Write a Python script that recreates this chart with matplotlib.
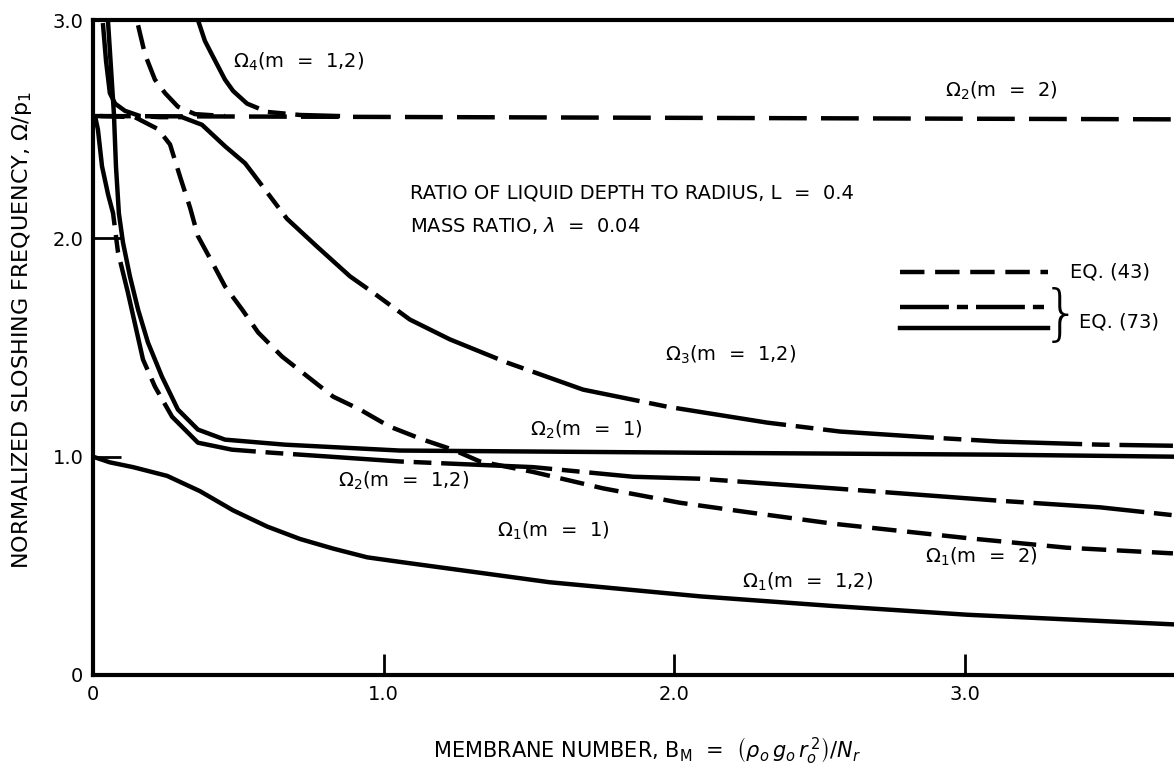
import matplotlib.pyplot as plt

plt.rcParams['font.family'] = ['DejaVu Sans']
plt.rcParams['mathtext.fontset'] = 'dejavusans'

# --- curves (x = membrane number B_M, y = Omega/p1) ---
# Omega_1 (m = 1), Eq. (73), solid
om1_m1_x = [0.0, 0.058, 0.138, 0.255, 0.368, 0.482, 0.599, 0.712, 0.826, 0.943,
            1.056, 1.57, 2.09, 2.545, 3.007, 3.715]
om1_m1_y = [1.0, 0.974, 0.952, 0.912, 0.842, 0.754, 0.68, 0.623, 0.579, 0.539,
            0.518, 0.425, 0.36, 0.316, 0.276, 0.232]

# Omega_1 (m = 2), Eq. (43), dashed
om1_m2_x = [0.024, 0.144, 0.224, 0.265, 0.30, 0.334, 0.361, 0.41, 0.454, 0.513,
            0.568, 0.65, 0.826, 0.918, 1.02, 1.135, 1.238, 1.331, 1.514, 1.754,
            2.019, 2.25, 2.546, 3.007, 3.35, 3.715]
om1_m2_y = [2.56, 2.555, 2.50, 2.43, 2.28, 2.14, 2.01, 1.89, 1.78, 1.674,
            1.569, 1.459, 1.275, 1.216, 1.138, 1.078, 1.032, 0.978, 0.93, 0.855,
            0.789, 0.746, 0.693, 0.627, 0.583, 0.557]

# upper branch of Eq. (43) running into Omega_2 (m = 2)
eq43_up_x = [0.155, 0.179, 0.213, 0.248, 0.292, 0.351, 0.454]
eq43_up_y = [2.976, 2.842, 2.727, 2.665, 2.603, 2.569, 2.56]

# Omega_2 (m = 2), Eq. (43)
om2_m2_x = [0.0, 3.72]
om2_m2_y = [2.56, 2.545]

# Omega_2 (m = 1), Eq. (73), solid
om2_m1_x = [0.052, 0.072, 0.079, 0.089, 0.103, 0.127, 0.155, 0.189, 0.237, 0.292,
            0.361, 0.454, 0.66, 1.056, 2.088, 3.12, 3.715]
om2_m1_y = [2.986, 2.569, 2.33, 2.115, 1.982, 1.826, 1.674, 1.523, 1.367, 1.216,
            1.124, 1.078, 1.055, 1.028, 1.018, 1.009, 1.0]

# Omega_2 (m = 1,2), Eq. (73), dash-dot
om2_m12_x = [0.007, 0.017, 0.031, 0.052, 0.069, 0.086, 0.12, 0.151, 0.172, 0.213,
             0.272, 0.361, 0.478, 0.616, 0.815, 1.056, 1.514, 1.858, 2.088, 2.546,
             3.12, 3.464, 3.715]
om2_m12_y = [2.56, 2.498, 2.33, 2.20, 2.115, 1.936, 1.752, 1.569, 1.445, 1.321,
             1.183, 1.064, 1.032, 1.018, 1.0, 0.978, 0.952, 0.908, 0.899, 0.855,
             0.798, 0.768, 0.732]

# Omega_3 (m = 1,2), Eq. (73), dash-dot
om3_x = [0.034, 0.045, 0.058, 0.076, 0.11, 0.162, 0.23, 0.306, 0.375, 0.454,
         0.523, 0.55, 0.667, 0.77, 0.884, 0.963, 1.09, 1.228, 1.424, 1.686,
         1.975, 2.319, 2.57, 2.89, 3.12, 3.464, 3.715]
om3_y = [2.986, 2.81, 2.665, 2.617, 2.584, 2.56, 2.555, 2.555, 2.52, 2.422,
         2.344, 2.297, 2.09, 1.963, 1.826, 1.752, 1.628, 1.537, 1.431, 1.307,
         1.229, 1.156, 1.115, 1.087, 1.069, 1.055, 1.05]

# Omega_4 (m = 1,2), Eq. (73)
om4_x = [0.361, 0.385, 0.409, 0.454, 0.482, 0.53, 0.599, 0.712, 0.85]
om4_y = [3.0, 2.904, 2.842, 2.727, 2.675, 2.617, 2.579, 2.565, 2.56]

x_ticks = [0, 1, 2, 3]
x_ticklabels = ['0', '1.0', '2.0', '3.0']
y_ticks = [0, 1, 2, 3]
y_ticklabels = ['0', '1.0', '2.0', '3.0']

LW = 3.2
DASH = (5.5, 2.4)
LONG_DASH = (8.5, 3.2)
DASH_DOT = (25, 2.2, 4, 2.2)

fig = plt.figure(figsize=(11.74, 7.65), dpi=100)
ax = fig.add_axes([93 / 1174, 90 / 765, 1081 / 1174, 655 / 765])

ax.plot(om1_m1_x, om1_m1_y, color='black', lw=LW)
ax.plot(om1_m2_x, om1_m2_y, color='black', lw=LW, dashes=DASH)
ax.plot(eq43_up_x, eq43_up_y, color='black', lw=LW, dashes=DASH)
ax.plot(om2_m2_x, om2_m2_y, color='black', lw=LW, dashes=LONG_DASH)
ax.plot(om2_m1_x, om2_m1_y, color='black', lw=LW)
ax.plot(om2_m12_x, om2_m12_y, color='black', lw=LW, dashes=DASH_DOT)
ax.plot(om3_x, om3_y, color='black', lw=LW, dashes=DASH_DOT)
ax.plot(om4_x, om4_y, color='black', lw=LW, dashes=DASH_DOT)

ax.set_xlim(0, 1081 / 290.7)
ax.set_ylim(0, 3.0)
ax.spines['right'].set_visible(False)
for s in ['left', 'bottom', 'top']:
    ax.spines[s].set_linewidth(3)
ax.set_xticks(x_ticks)
ax.set_xticklabels(x_ticklabels)
ax.set_yticks(y_ticks)
ax.set_yticklabels(y_ticklabels)
ax.tick_params(axis='x', direction='in', length=15, width=2, pad=7, labelsize=14)
ax.tick_params(axis='y', direction='in', length=20, width=2, pad=7, labelsize=14)

ax.set_ylabel(r'NORMALIZED SLOSHING FREQUENCY, $\Omega/\mathregular{p_1}$', fontsize=16,
              va='center')
ax.yaxis.set_label_coords(-0.066, 0.527)
ax.set_xlabel(r'MEMBRANE NUMBER, $\mathregular{B_M}$  =  $\left(\rho_o\, g_o\, r_o^{\,2}\right)/N_r$',
              fontsize=15, va='center')
ax.xaxis.set_label_coords(0.512, -0.116)

# curve labels
fs = 14
ax.text(0.48, 2.81, r'$\Omega_4$(m  =  1,2)', fontsize=fs, va='center')
ax.text(2.93, 2.675, r'$\Omega_2$(m  =  2)', fontsize=fs, va='center')
ax.text(1.09, 2.206, 'RATIO OF LIQUID DEPTH TO RADIUS, L  =  0.4', fontsize=fs, va='center')
ax.text(1.09, 2.06, r'MASS RATIO, $\lambda$  =  0.04', fontsize=fs, va='center')
ax.text(1.968, 1.468, r'$\Omega_3$(m  =  1,2)', fontsize=fs, va='center')
ax.text(1.503, 1.124, r'$\Omega_2$(m  =  1)', fontsize=fs, va='center')
ax.text(0.843, 0.89, r'$\Omega_2$(m  =  1,2)', fontsize=fs, va='center')
ax.text(1.39, 0.658, r'$\Omega_1$(m  =  1)', fontsize=fs, va='center')
ax.text(2.233, 0.425, r'$\Omega_1$(m  =  1,2)', fontsize=fs, va='center')
ax.text(2.862, 0.539, r'$\Omega_1$(m  =  2)', fontsize=fs, va='center')

# hand-drawn key
ax.plot([0.7465, 0.8834], [0.6153, 0.6153], transform=ax.transAxes,
        color='black', lw=LW, dashes=DASH)
ax.plot([0.7465, 0.8834], [0.5618, 0.5618], transform=ax.transAxes,
        color='black', lw=LW, dashes=(11, 1.8, 2.5, 1.8))
ax.plot([0.7465, 0.8834], [0.5298, 0.5298], transform=ax.transAxes,
        color='black', lw=LW)
ax.text(0.904, 0.6153, 'EQ. (43)', transform=ax.transAxes, fontsize=fs, va='center')
ax.text(0.8955, 0.548, '}', transform=ax.transAxes, fontsize=44, va='center',
        ha='center', fontweight='light')
ax.text(0.912, 0.539, 'EQ. (73)', transform=ax.transAxes, fontsize=fs, va='center')

fig.savefig('out.png', dpi=100)
